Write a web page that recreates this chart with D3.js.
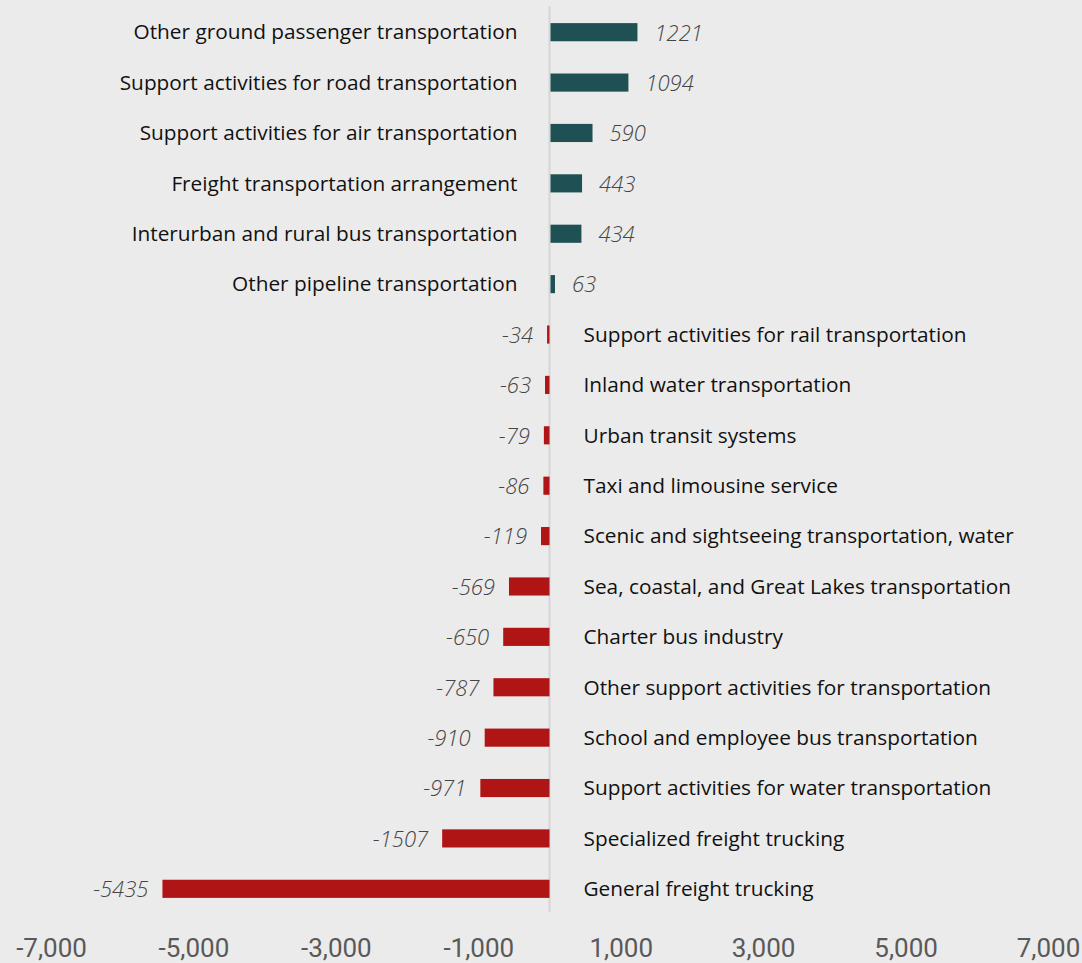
<!DOCTYPE html>
<html>
<head>
<meta charset="utf-8">
<script src="https://cdn.jsdelivr.net/npm/d3@7"></script>
<style>
  html, body { margin: 0; padding: 0; background: #ebebeb; }
  svg { display: block; }
</style>
</head>
<body>
<div id="chart"></div>
<script>
const categories = [
  "Other ground passenger transportation",
  "Support activities for road transportation",
  "Support activities for air transportation",
  "Freight transportation arrangement",
  "Interurban and rural bus transportation",
  "Other pipeline transportation",
  "Support activities for rail transportation",
  "Inland water transportation",
  "Urban transit systems",
  "Taxi and limousine service",
  "Scenic and sightseeing transportation, water",
  "Sea, coastal, and Great Lakes transportation",
  "Charter bus industry",
  "Other support activities for transportation",
  "School and employee bus transportation",
  "Support activities for water transportation",
  "Specialized freight trucking",
  "General freight trucking"
];
const values = [1221, 1094, 590, 443, 434, 63, -34, -63, -79, -86, -119, -569, -650, -787, -910, -971, -1507, -5435];
const tickValues = [-7000, -5000, -3000, -1000, 1000, 3000, 5000, 7000];

const W = 1082, H = 963;
const POS = "#1f5054", NEG = "#b01515";

const svg = d3.select("#chart").append("svg")
  .attr("width", W).attr("height", H);

svg.append("rect").attr("width", W).attr("height", H).attr("fill", "#ebebeb");

const x = d3.scaleLinear().domain([-7000, 7000]).range([51, 1048]);
const y = d3.scaleBand().domain(categories).range([8, 913]).paddingInner(0.64).paddingOuter(0.3);

// zero line
svg.append("line")
  .attr("x1", x(0)).attr("x2", x(0))
  .attr("y1", 6).attr("y2", 912)
  .attr("stroke", "#d6d6d6").attr("stroke-width", 2);

const rows = svg.append("g").selectAll("g")
  .data(categories.map((c, i) => ({ name: c, value: values[i] })))
  .join("g");

rows.append("rect")
  .attr("x", d => d.value >= 0 ? x(0) + 1 : x(d.value))
  .attr("y", d => y(d.name))
  .attr("width", d => Math.abs(x(d.value) - x(0)))
  .attr("height", y.bandwidth())
  .attr("fill", d => d.value >= 0 ? POS : NEG);

// value labels
rows.append("text")
  .attr("x", d => d.value >= 0 ? x(d.value) + 18 : x(d.value) - 14)
  .attr("y", d => y(d.name) + y.bandwidth() / 2)
  .attr("dy", "0.38em")
  .attr("text-anchor", d => d.value >= 0 ? "start" : "end")
  .attr("font-family", "'Open Sans', sans-serif")
  .attr("font-style", "italic")
  .attr("font-weight", 300)
  .attr("font-size", 22)
  .attr("fill", "#454545")
  .text(d => d.value);

// category labels
rows.append("text")
  .attr("x", d => d.value >= 0 ? x(0) - 32 : x(0) + 34)
  .attr("y", d => y(d.name) + y.bandwidth() / 2)
  .attr("dy", "0.35em")
  .attr("text-anchor", d => d.value >= 0 ? "end" : "start")
  .attr("font-family", "'Open Sans', sans-serif")
  .attr("font-size", 20.8)
  .attr("fill", "#111")
  .text(d => d.name);

// bottom axis
const fmt = d3.format(",");
const axis = svg.append("g")
  .attr("transform", `translate(0,${957})`)
  .call(d3.axisBottom(x).tickValues(tickValues).tickSize(0)
    .tickFormat(d => fmt(d).replace("\u2212", "-")));
axis.select(".domain").remove();
axis.selectAll("text")
  .attr("y", 0)
  .attr("dy", 0)
  .attr("font-family", "Roboto, sans-serif")
  .attr("font-size", 26)
  .attr("fill", "#595959");
</script>
</body>
</html>
